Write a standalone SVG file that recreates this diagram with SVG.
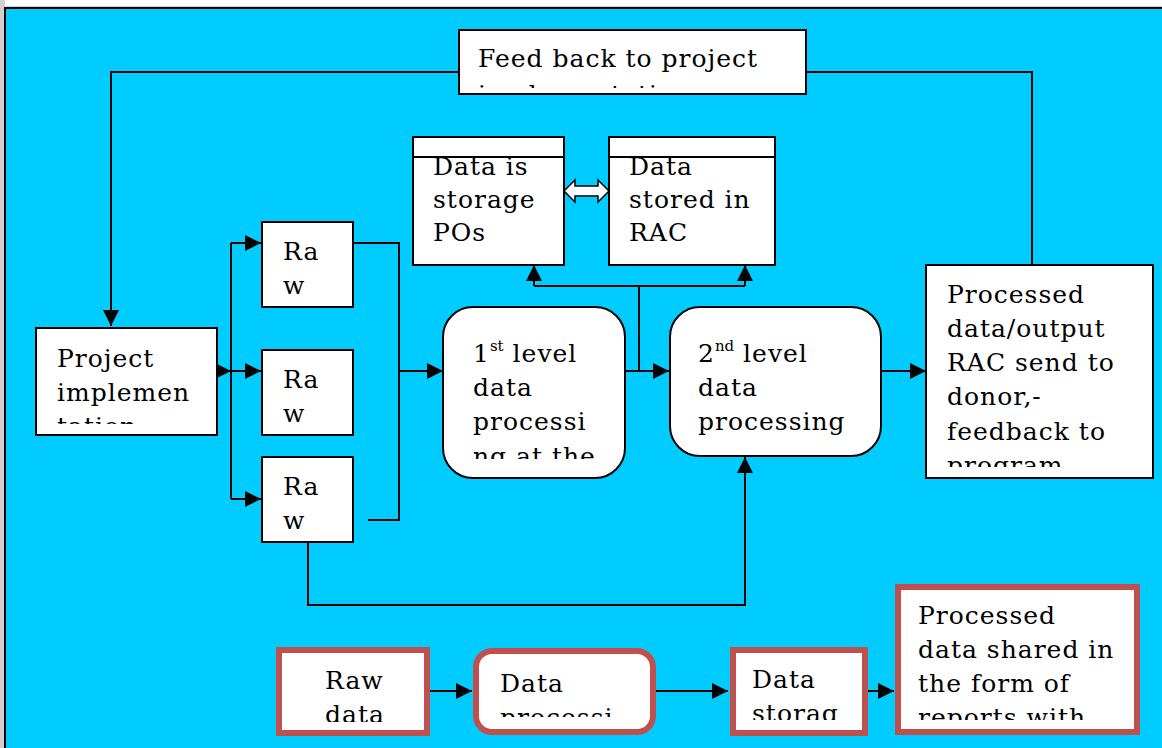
<svg xmlns="http://www.w3.org/2000/svg" width="1162" height="748" viewBox="0 0 1162 748">
<defs>
<style>
.t{font-family:"DejaVu Serif","Liberation Serif",serif;font-size:25px;letter-spacing:1px;fill:#000}
.box{fill:#fff;stroke:#000;stroke-width:2}
.red{fill:#fff;stroke:#C0504D;stroke-width:6}
.ln{fill:none;stroke:#000;stroke-width:2}
.sup{font-size:15px;letter-spacing:0}
</style>
<marker id="ah" viewBox="0 0 10 10" refX="10" refY="5" markerWidth="16" markerHeight="16" markerUnits="userSpaceOnUse" orient="auto">
<path d="M0,0 L10,5 L0,10 z" fill="#000"/>
</marker>
<clipPath id="cFeed"><rect x="460" y="32" width="345" height="56"/></clipPath>
<clipPath id="cProj"><rect x="37" y="329" width="179" height="95"/></clipPath>
<clipPath id="cL1"><rect x="444" y="308" width="180" height="151"/></clipPath>
<clipPath id="cOut"><rect x="927" y="266" width="225" height="201"/></clipPath>
<clipPath id="cRaw"><rect x="279" y="650" width="148" height="72"/></clipPath>
<clipPath id="cDP"><rect x="476" y="651" width="177" height="66"/></clipPath>
<clipPath id="cDS"><rect x="733" y="650" width="132" height="70"/></clipPath>
<clipPath id="cShare"><rect x="898" y="587" width="239" height="133"/></clipPath>
</defs>
<rect x="0" y="0" width="1162" height="748" fill="#fff"/>
<rect x="0" y="0" width="5" height="748" fill="#d0d0d0"/>
<rect x="0" y="6" width="1162" height="2" fill="#d0d0d0"/>
<rect x="5" y="8" width="1160" height="745" fill="#00CCFF" stroke="#000" stroke-width="2"/>

<g id="connectors">
<polyline class="ln" points="460,72 111,72 111,326" marker-end="url(#ah)"/>
<polyline class="ln" points="806,72 1032,72 1032,265"/>
<line class="ln" x1="217" y1="371" x2="231" y2="371" marker-end="url(#ah)"/>
<polyline class="ln" points="231,243 231,499"/>
<line class="ln" x1="231" y1="243" x2="261" y2="243" marker-end="url(#ah)"/>
<line class="ln" x1="231" y1="371" x2="261" y2="371" marker-end="url(#ah)"/>
<line class="ln" x1="231" y1="499" x2="261" y2="499" marker-end="url(#ah)"/>
<polyline class="ln" points="353,243 399,243 399,520 368,520"/>
<line class="ln" x1="399" y1="371" x2="443" y2="371" marker-end="url(#ah)"/>
<line class="ln" x1="625" y1="371" x2="669" y2="371" marker-end="url(#ah)"/>
<polyline class="ln" points="639,371 639,286"/>
<polyline class="ln" points="534,286 745,286"/>
<line class="ln" x1="534" y1="286" x2="534" y2="265" marker-end="url(#ah)"/>
<line class="ln" x1="745" y1="286" x2="745" y2="265" marker-end="url(#ah)"/>
<polyline class="ln" points="308,542 308,605 745,605 745,457" marker-end="url(#ah)"/>
<line class="ln" x1="881" y1="371" x2="926" y2="371" marker-end="url(#ah)"/>
<path d="M564,191 L575,180 L575,186 L598,186 L598,180 L609,191 L598,202 L598,196 L575,196 L575,202 Z" fill="#fff" stroke="#000" stroke-width="1.5"/>
<line class="ln" x1="430" y1="691" x2="472" y2="691" marker-end="url(#ah)"/>
<line class="ln" x1="656" y1="691" x2="728" y2="691" marker-end="url(#ah)"/>
<line class="ln" x1="868" y1="691" x2="894" y2="691" marker-end="url(#ah)"/>
</g>

<g id="feedback">
<rect class="box" x="459" y="30" width="347" height="64"/>
<g clip-path="url(#cFeed)">
<text class="t" x="478" y="67">Feed back to project</text>
<text class="t" x="478" y="103">implementation</text>
</g>
</g>

<g id="store-pos">
<rect class="box" x="413" y="137" width="151" height="128"/>
<line class="ln" x1="413" y1="157" x2="564" y2="157"/>
<text class="t" x="433" y="175">Data is</text>
<text class="t" x="433" y="208">storage</text>
<text class="t" x="433" y="241">POs</text>
</g>

<g id="store-rac">
<rect class="box" x="609" y="137" width="166" height="128"/>
<line class="ln" x1="609" y1="157" x2="775" y2="157"/>
<text class="t" x="629" y="175">Data</text>
<text class="t" x="629" y="208">stored in</text>
<text class="t" x="629" y="241">RAC</text>
</g>

<g id="project">
<rect class="box" x="36" y="328" width="181" height="107"/>
<g clip-path="url(#cProj)">
<text class="t" x="57" y="367">Project</text>
<text class="t" x="57" y="401">implemen</text>
<text class="t" x="57" y="435">tation</text>
</g>
</g>

<g id="raw1">
<rect class="box" x="262" y="222" width="91" height="85"/>
<text class="t" x="283" y="260">Ra</text>
<text class="t" x="283" y="294">w</text>
</g>
<g id="raw2">
<rect class="box" x="262" y="350" width="91" height="85"/>
<text class="t" x="283" y="388">Ra</text>
<text class="t" x="283" y="422">w</text>
</g>
<g id="raw3">
<rect class="box" x="262" y="457" width="91" height="85"/>
<text class="t" x="283" y="495">Ra</text>
<text class="t" x="283" y="529">w</text>
</g>

<g id="level1">
<rect class="box" x="443" y="307" width="182" height="171" rx="30"/>
<g clip-path="url(#cL1)">
<text class="t" x="473" y="362">1<tspan class="sup" dy="-11">st</tspan><tspan dy="11"> level</tspan></text>
<text class="t" x="473" y="396">data</text>
<text class="t" x="473" y="430">processi</text>
<text class="t" x="473" y="465">ng at the</text>
</g>
</g>

<g id="level2">
<rect class="box" x="670" y="307" width="211" height="149" rx="30"/>
<text class="t" x="698" y="362">2<tspan class="sup" dy="-11">nd</tspan><tspan dy="11"> level</tspan></text>
<text class="t" x="698" y="396">data</text>
<text class="t" x="698" y="430">processing</text>
</g>

<g id="output">
<rect class="box" x="926" y="265" width="227" height="213"/>
<g clip-path="url(#cOut)">
<text class="t" x="947" y="303">Processed</text>
<text class="t" x="947" y="337">data/output</text>
<text class="t" x="947" y="371">RAC send to</text>
<text class="t" x="947" y="405">donor,-</text>
<text class="t" x="947" y="440">feedback to</text>
<text class="t" x="947" y="474">program</text>
</g>
</g>

<g id="b-raw">
<rect class="red" x="279" y="650" width="148" height="83"/>
<g clip-path="url(#cRaw)">
<text class="t" x="325" y="689">Raw</text>
<text class="t" x="325" y="723">data</text>
</g>
</g>
<g id="b-proc">
<rect class="red" x="476" y="651" width="177" height="81" rx="16"/>
<g clip-path="url(#cDP)">
<text class="t" x="500" y="692">Data</text>
<text class="t" x="500" y="726">processi</text>
</g>
</g>
<g id="b-store">
<rect class="red" x="733" y="650" width="132" height="83"/>
<g clip-path="url(#cDS)">
<text class="t" x="752" y="688">Data</text>
<text class="t" x="752" y="722">storag</text>
</g>
</g>
<g id="b-share">
<rect class="red" x="898" y="587" width="239" height="145"/>
<g clip-path="url(#cShare)">
<text class="t" x="918" y="624">Processed</text>
<text class="t" x="918" y="658">data shared in</text>
<text class="t" x="918" y="692">the form of</text>
<text class="t" x="918" y="726">reports with</text>
</g>
</g>
</svg>
